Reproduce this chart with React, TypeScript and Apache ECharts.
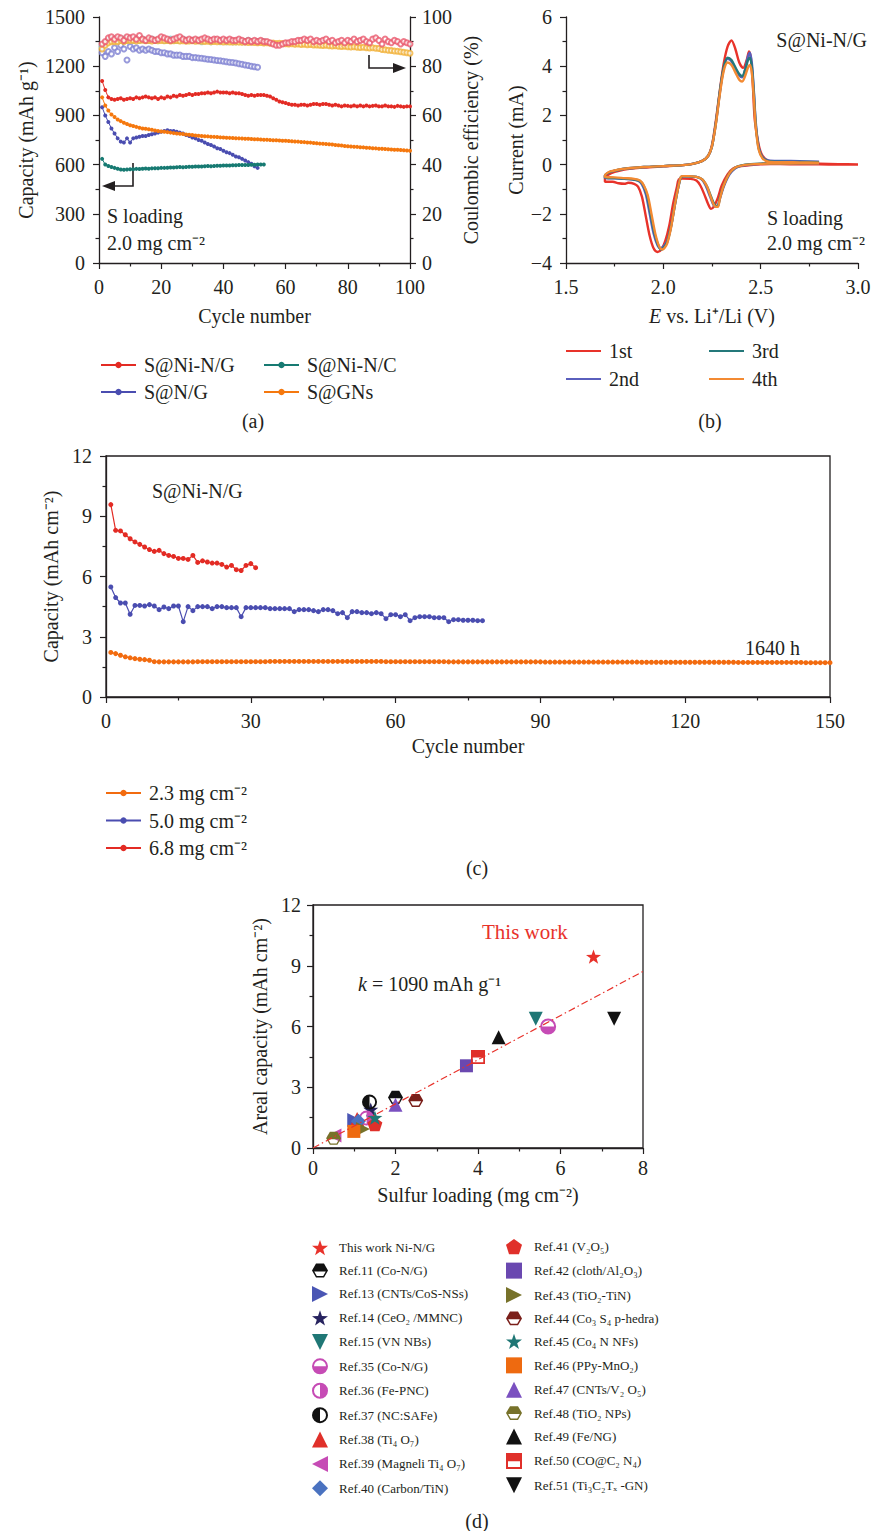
import React, { useEffect, useRef } from "react";
import * as echarts from "echarts";

const FONT = "'Liberation Serif', 'Times New Roman', Times, serif";
const INK = "#231f20";
const FS = 20;

// ---------------- (a) capacity (mAh g-1) per cycle ----------------
const capNiNG = [
  1110, 1055, 1010, 1000, 995, 1000, 1005, 995, 1000, 1005,
  1000, 1010, 1005, 1010, 1015, 1010, 1005, 1010, 1000, 1010,
  1005, 1015, 1010, 1020, 1015, 1025, 1020, 1025, 1030, 1025,
  1030, 1030, 1035, 1035, 1040, 1035, 1040, 1045, 1040, 1040,
  1040, 1035, 1040, 1035, 1035, 1030, 1025, 1020, 1025, 1020,
  1025, 1025, 1025, 1020, 1015, 1005, 995, 985, 980, 975,
  970, 965, 965, 960, 965, 965, 960, 965, 970, 970,
  965, 970, 970, 965, 960, 965, 960, 955, 960, 958,
  955, 960, 955, 960, 955, 960, 955, 958, 960, 955,
  955, 960, 955, 955, 952, 958, 955, 952, 955, 955,
];
const capNG = [
  950, 900, 860, 820, 790, 760, 740, 735, 760, 735,
  760, 765, 770, 775, 775, 780, 785, 790, 795, 800,
  805, 810, 805, 805, 800, 795, 790, 780, 775, 765,
  760, 750, 745, 735, 725, 720, 710, 700, 695, 685,
  675, 670, 660, 650, 645, 635, 625, 615, 605, 590,
  580,
];
const capNiNC = [
  635, 600, 592, 585, 580, 575, 570, 568, 570, 572,
  572, 574, 573, 575, 576, 575, 577, 578, 578, 580,
  580, 581, 582, 582, 584, 585, 584, 586, 587, 587,
  588, 589, 589, 590, 591, 590, 592, 593, 593, 594,
  595, 595, 596, 596, 597, 598, 597, 598, 599, 599,
  600, 600, 600,
];
const capGNs = [
  1010, 960, 930, 905, 890, 875, 865, 855, 848, 840,
  835, 830, 825, 820, 818, 815, 812, 808, 805, 802,
  800, 798, 795, 792, 790, 788, 786, 784, 782, 780,
  778, 776, 775, 773, 772, 770, 769, 768, 766, 765,
  764, 763, 762, 761, 760, 759, 758, 757, 756, 755,
  754, 753, 752, 751, 750, 749, 748, 747, 746, 745,
  744, 742, 741, 740, 738, 737, 735, 734, 732, 730,
  728, 727, 725, 724, 722, 720, 718, 716, 714, 712,
  710, 709, 708, 706, 705, 703, 702, 700, 699, 697,
  696, 695, 694, 692, 691, 690, 689, 688, 686, 685,
];
// (a) coulombic efficiency (%)
const ceNiNG = [
  89, 90, 91.5, 92, 91, 92, 91.5, 90.5, 92, 91.5,
  92, 91, 92.5, 91, 90.5, 91.5, 91, 90.5, 91, 92,
  91.5, 91, 90.5, 91, 91.5, 92, 91, 90.5, 91, 90.5,
  91, 90.5, 91, 91.5, 91, 90.5, 91, 91, 90.5, 91,
  90.5, 91, 90.5, 90.5, 91, 90.5, 90, 90.5, 90, 90.5,
  90, 90.5, 90, 90, 89.5, 89, 88.5, 88.5, 89, 89.5,
  89.5, 90, 90, 90.5, 90.5, 91, 90.5, 91, 90, 90.5,
  90, 90.5, 91, 90, 90.5, 89.5, 90, 90.5, 89.5, 90.5,
  90, 91, 90, 90.5, 91, 90, 89.5, 91, 91.5, 90.5,
  89, 91, 90, 89.5, 90.5, 90, 89, 90, 89.5, 89,
];
const ceNG = [
  85.5, 84, 86, 85, 87.5, 86, 88.5, 87, 82.5, 88,
  87, 87.5, 86.5, 87, 86.5, 87, 86.5, 86, 86, 85.5,
  85.5, 85, 85, 84.5, 84.5, 84.5, 84, 84, 84, 83.5,
  83.5, 83.3, 83.2, 83, 82.8, 82.7, 82.5, 82.3, 82.2, 82,
  81.8, 81.6, 81.5, 81.3, 81, 80.8, 80.5, 80.3, 80, 79.8,
  79.6,
];
const ceNiNC = [
  88, 89.5, 90.5, 91, 91, 90.5, 91, 91, 90.5, 91,
  90.5, 91, 90.5, 91, 90.5, 90.5, 91, 90.5, 90.5, 91,
  90.5, 90.5, 91, 90.5, 90.5, 90.5, 91, 90.5, 90.5, 90.5,
  90.5, 90.5, 90, 90.5, 90.5, 90, 90.5, 90.5, 90, 90.5,
  90, 90.5, 90, 90, 90.5, 90, 90, 90.5, 90, 90,
  90, 90, 90,
];
const ceGNs = [
  87, 88.5, 89.5, 90, 90, 90, 90.5, 90, 90.5, 90.5,
  90.5, 90.3, 90.5, 90.6, 90.4, 90.5, 90.3, 90.5, 90.4, 90.5,
  90.4, 90.5, 90.3, 90.4, 90.5, 90.3, 90.4, 90.2, 90.3, 90.4,
  90.2, 90.3, 90.2, 90.1, 90.2, 90.0, 90.1, 90.0, 90.1, 89.9,
  90.0, 89.9, 89.8, 89.9, 89.8, 89.7, 89.8, 89.6, 89.7, 89.6,
  89.5, 89.6, 89.4, 89.5, 89.3, 89.4, 89.2, 89.3, 89.2, 89.1,
  89.0, 89.1, 88.9, 89.0, 88.8, 88.9, 88.7, 88.8, 88.6, 88.6,
  88.5, 88.4, 88.5, 88.3, 88.2, 88.3, 88.1, 88.0, 88.1, 87.9,
  87.8, 87.9, 87.7, 87.6, 87.7, 87.5, 87.4, 87.5, 87.3, 87.2,
  86.8, 86.7, 86.5, 86.4, 86.2, 86.1, 85.9, 85.7, 85.5, 85.3,
];

// ---------------- (b) CV curves [E (V), I (mA)] ----------------
const cv1st = [
  [3.0, 0.0], [2.9, 0.0], [2.8, 0.01], [2.7, 0.01], [2.6, 0.02], [2.55, 0.02], [2.5, 0.01], [2.45, -0.02],
  [2.4, -0.06], [2.36, -0.15], [2.33, -0.4], [2.3, -0.85], [2.28, -1.35], [2.26, -1.7], [2.245, -1.8],
  [2.23, -1.6], [2.21, -1.2], [2.19, -0.85], [2.17, -0.65], [2.14, -0.58], [2.1, -0.57], [2.08, -0.6],
  [2.07, -0.9], [2.05, -1.6], [2.03, -2.5], [2.01, -3.1], [1.99, -3.45], [1.97, -3.55], [1.95, -3.4],
  [1.93, -2.9], [1.91, -2.1], [1.89, -1.3], [1.87, -0.9], [1.85, -0.78], [1.82, -0.74], [1.8, -0.78],
  [1.77, -0.76], [1.74, -0.7], [1.7, -0.7],
  [1.7, -0.55], [1.72, -0.4], [1.75, -0.3], [1.8, -0.2], [1.9, -0.12], [2.0, -0.07], [2.1, -0.02],
  [2.15, 0.03], [2.2, 0.15], [2.23, 0.35], [2.25, 0.8], [2.27, 1.8], [2.29, 3.0], [2.31, 4.1], [2.33, 4.8],
  [2.35, 5.05], [2.37, 4.7], [2.39, 4.15], [2.41, 3.93], [2.43, 4.3], [2.44, 4.6], [2.45, 4.3], [2.46, 3.2],
  [2.47, 1.8], [2.49, 0.8], [2.51, 0.35], [2.54, 0.15], [2.6, 0.1], [2.7, 0.06], [2.8, 0.04], [2.9, 0.02],
  [3.0, 0.01],
];
const cv2nd = [
  [2.8, 0.06], [2.7, 0.06], [2.6, 0.05], [2.55, 0.05], [2.5, 0.03], [2.45, 0.0], [2.4, -0.05], [2.37, -0.15],
  [2.34, -0.4], [2.31, -0.9], [2.29, -1.4], [2.275, -1.72], [2.26, -1.68], [2.24, -1.3], [2.22, -0.9],
  [2.2, -0.62], [2.17, -0.5], [2.13, -0.48], [2.1, -0.48], [2.09, -0.52], [2.08, -0.8], [2.06, -1.6],
  [2.04, -2.5], [2.02, -3.1], [2.0, -3.33], [1.985, -3.4], [1.97, -3.28], [1.95, -2.8], [1.93, -2.0],
  [1.91, -1.2], [1.89, -0.8], [1.87, -0.65], [1.84, -0.6], [1.8, -0.58], [1.75, -0.56], [1.7, -0.55],
  [1.7, -0.45], [1.72, -0.32], [1.75, -0.25], [1.8, -0.17], [1.9, -0.1], [2.0, -0.06], [2.1, -0.02],
  [2.15, 0.03], [2.2, 0.15], [2.23, 0.35], [2.25, 0.75], [2.27, 1.7], [2.29, 2.9], [2.31, 3.9], [2.33, 4.3],
  [2.35, 4.2], [2.37, 3.9], [2.39, 3.62], [2.405, 3.55], [2.42, 3.85], [2.435, 4.4], [2.445, 4.55],
  [2.455, 4.1], [2.465, 3.0], [2.475, 1.7], [2.49, 0.7], [2.51, 0.3], [2.54, 0.17], [2.6, 0.15], [2.7, 0.14],
  [2.8, 0.12],
];
const cv3rd = [
  [2.8, 0.06], [2.7, 0.06], [2.6, 0.05], [2.55, 0.05], [2.5, 0.04], [2.45, 0.02], [2.4, -0.03], [2.37, -0.12],
  [2.34, -0.35], [2.31, -0.85], [2.29, -1.35], [2.28, -1.68], [2.265, -1.65], [2.245, -1.3], [2.225, -0.9],
  [2.2, -0.6], [2.17, -0.5], [2.13, -0.48], [2.1, -0.48], [2.09, -0.52], [2.08, -0.8], [2.06, -1.6],
  [2.04, -2.5], [2.02, -3.15], [2.0, -3.4], [1.99, -3.45], [1.975, -3.3], [1.955, -2.8], [1.935, -2.0],
  [1.915, -1.2], [1.895, -0.8], [1.875, -0.65], [1.84, -0.6], [1.8, -0.57], [1.75, -0.55], [1.7, -0.52],
  [1.7, -0.45], [1.72, -0.32], [1.75, -0.25], [1.8, -0.17], [1.9, -0.1], [2.0, -0.06], [2.1, -0.02],
  [2.15, 0.03], [2.2, 0.15], [2.23, 0.35], [2.25, 0.75], [2.27, 1.7], [2.29, 2.95], [2.31, 3.95], [2.33, 4.35],
  [2.35, 4.25], [2.37, 3.95], [2.39, 3.68], [2.405, 3.6], [2.42, 3.85], [2.435, 4.25], [2.445, 4.35],
  [2.455, 3.95], [2.465, 2.9], [2.475, 1.6], [2.49, 0.65], [2.51, 0.28], [2.54, 0.14], [2.6, 0.12], [2.7, 0.11],
  [2.8, 0.1],
];
const cv4th = [
  [2.8, 0.05], [2.7, 0.05], [2.6, 0.04], [2.55, 0.04], [2.5, 0.03], [2.45, 0.01], [2.4, -0.04], [2.37, -0.12],
  [2.34, -0.35], [2.31, -0.85], [2.29, -1.4], [2.28, -1.72], [2.265, -1.7], [2.245, -1.35], [2.225, -0.9],
  [2.2, -0.6], [2.17, -0.5], [2.13, -0.47], [2.1, -0.47], [2.09, -0.5], [2.08, -0.8], [2.06, -1.6],
  [2.04, -2.55], [2.02, -3.2], [2.005, -3.4], [1.995, -3.45], [1.98, -3.35], [1.96, -2.85], [1.94, -2.05],
  [1.92, -1.25], [1.9, -0.85], [1.88, -0.65], [1.85, -0.58], [1.8, -0.55], [1.75, -0.52], [1.7, -0.5],
  [1.7, -0.45], [1.72, -0.3], [1.75, -0.24], [1.8, -0.17], [1.9, -0.1], [2.0, -0.06], [2.1, -0.02],
  [2.15, 0.03], [2.2, 0.15], [2.23, 0.35], [2.25, 0.75], [2.27, 1.65], [2.29, 2.85], [2.31, 3.8], [2.33, 4.15],
  [2.35, 4.05], [2.37, 3.75], [2.39, 3.45], [2.405, 3.38], [2.42, 3.6], [2.435, 3.95], [2.445, 4.05],
  [2.455, 3.7], [2.465, 2.7], [2.475, 1.5], [2.49, 0.6], [2.51, 0.25], [2.54, 0.12], [2.6, 0.1], [2.7, 0.09],
  [2.8, 0.08],
];

// ---------------- (c) areal capacity (mAh cm-2) per cycle ----------------
const areal23 = [
  2.22, 2.16, 2.08, 2.0, 1.95, 1.91, 1.88, 1.86, 1.83, 1.76,
  1.75, 1.75, 1.75, 1.75, 1.75, 1.75, 1.75, 1.75, 1.76, 1.76,
  1.76, 1.76, 1.76, 1.76, 1.76, 1.76, 1.76, 1.76, 1.76, 1.76,
  1.76, 1.76, 1.76, 1.77, 1.77, 1.77, 1.77, 1.77, 1.77, 1.77,
  1.77, 1.77, 1.77, 1.77, 1.77, 1.77, 1.77, 1.77, 1.77, 1.77,
  1.77, 1.77, 1.77, 1.77, 1.77, 1.77, 1.77, 1.76, 1.76, 1.76,
  1.76, 1.76, 1.76, 1.76, 1.76, 1.76, 1.76, 1.76, 1.76, 1.76,
  1.75, 1.75, 1.75, 1.75, 1.75, 1.75, 1.75, 1.75, 1.75, 1.75,
  1.75, 1.75, 1.75, 1.75, 1.75, 1.75, 1.75, 1.75, 1.75, 1.75,
  1.74, 1.74, 1.74, 1.74, 1.74, 1.74, 1.74, 1.74, 1.74, 1.74,
  1.74, 1.74, 1.74, 1.74, 1.74, 1.74, 1.74, 1.74, 1.74, 1.74,
  1.73, 1.73, 1.73, 1.73, 1.73, 1.73, 1.73, 1.73, 1.73, 1.73,
  1.73, 1.73, 1.73, 1.73, 1.73, 1.73, 1.73, 1.73, 1.73, 1.73,
  1.72, 1.72, 1.72, 1.72, 1.72, 1.72, 1.72, 1.72, 1.72, 1.72,
  1.72, 1.72, 1.72, 1.72, 1.71, 1.71, 1.71, 1.71, 1.71, 1.71,
];
const areal50 = [
  5.48, 4.95, 4.68, 4.68, 4.12, 4.56, 4.56, 4.53, 4.6, 4.53,
  4.35, 4.48, 4.4, 4.53, 4.53, 3.75, 4.5, 4.3, 4.5, 4.5,
  4.5, 4.4, 4.5, 4.5, 4.45, 4.45, 4.45, 4.0, 4.45, 4.45,
  4.45, 4.45, 4.45, 4.4, 4.4, 4.4, 4.4, 4.4, 4.25, 4.35,
  4.35, 4.35, 4.3, 4.25, 4.35, 4.35, 4.3, 4.15, 4.2, 3.95,
  4.25, 4.25, 4.2, 4.2, 4.15, 4.2, 4.15, 3.9, 4.1, 4.1,
  4.0, 4.1, 3.8, 3.95, 4.0, 4.0, 4.0, 3.95, 3.95, 3.95,
  3.75, 3.85, 3.85, 3.82, 3.82, 3.82, 3.8, 3.8,
];
const areal68 = [
  9.58, 8.3, 8.27, 8.08, 7.88, 7.72, 7.6, 7.47, 7.34, 7.25,
  7.3, 7.14, 7.05, 7.0, 6.9, 6.9, 6.85, 7.05, 6.7, 6.78,
  6.72, 6.67, 6.67, 6.6, 6.47, 6.55, 6.34, 6.3, 6.55, 6.64,
  6.44,
];

// ---------------- (d) literature comparison ----------------
const refNames = [
  "This work Ni-N/G", "Ref.11 (Co-N/G)", "Ref.13 (CNTs/CoS-NSs)", "Ref.14 (CeO₂ /MMNC)",
  "Ref.15 (VN NBs)", "Ref.35 (Co-N/G)", "Ref.36 (Fe-PNC)", "Ref.37 (NC:SAFe)",
  "Ref.38 (Ti₄ O₇)", "Ref.39 (Magneli Ti₄ O₇)", "Ref.40 (Carbon/TiN)",
  "Ref.41 (V₂O₅)", "Ref.42 (cloth/Al₂O₃)", "Ref.43 (TiO₂-TiN)", "Ref.44 (Co₃ S₄ p-hedra)",
  "Ref.45 (Co₄ N NFs)", "Ref.46 (PPy-MnO₂)", "Ref.47 (CNTs/V₂ O₅)", "Ref.48 (TiO₂ NPs)",
  "Ref.49 (Fe/NG)", "Ref.50 (CO@C₂ N₄)", "Ref.51 (Ti₃C₂Tₓ -GN)",
];
const refLoading = [6.8, 2.0, 1.0, 1.4, 5.4, 5.7, 1.3, 1.37, 1.07, 0.52, 1.1, 1.5, 3.72, 1.21, 2.49, 1.5, 0.99, 2.0, 0.5, 4.5, 4.0, 7.3];
const refCapacity = [9.45, 2.5, 1.38, 1.9, 6.38, 6.0, 1.48, 2.27, 1.43, 0.62, 1.32, 1.18, 4.06, 0.94, 2.35, 1.5, 0.82, 2.14, 0.48, 5.47, 4.49, 6.38];
const fitLoading = [0, 8];
const fitCapacity = [0, 8.72];

// ---------------- marker shapes (style) ----------------
const P_STAR = "path://M0 -1 L0.235 -0.324 L0.951 -0.309 L0.38 0.124 L0.588 0.809 L0 0.4 L-0.588 0.809 L-0.38 0.124 L-0.951 -0.309 L-0.235 -0.324 Z";
const P_PENT = "path://M0 -1 L0.951 -0.309 L0.588 0.809 L-0.588 0.809 L-0.951 -0.309 Z";
const P_UP = "path://M0 -1 L1 1 L-1 1 Z";
const P_DOWN = "path://M-1 -1 L1 -1 L0 1 Z";
const P_RIGHT = "path://M-1 -1 L1 0 L-1 1 Z";
const P_LEFT = "path://M1 -1 L-1 0 L1 1 Z";
const CIRC = "M-1 0 A1 1 0 1 1 1 0 A1 1 0 1 1 -1 0 Z ";
const P_HALF_BOTTOM = "path://" + CIRC + "M-0.75 0 L0.75 0 A0.75 0.75 0 0 0 -0.75 0 Z";
const P_HALF_RIGHT = "path://" + CIRC + "M0 -0.75 A0.75 0.75 0 0 0 0 0.75 L0 -0.75 Z";
const P_HALF_LEFT = "path://" + CIRC + "M0 0.75 A0.75 0.75 0 0 0 0 -0.75 L0 0.75 Z";
const P_HEX_HALF = "path://M-1 0 L-0.5 -0.87 L0.5 -0.87 L1 0 L0.5 0.87 L-0.5 0.87 Z M-0.72 0.12 L-0.4 0.68 L0.4 0.68 L0.72 0.12 Z";
const P_SQ_HALF = "path://M-1 -1 L1 -1 L1 1 L-1 1 Z M-0.75 0.05 L-0.75 0.75 L0.75 0.75 L0.75 0.05 Z";

const refStyle: { symbol: string; color: string; size: number }[] = [
  { symbol: P_STAR, color: "#e8322b", size: 15 },
  { symbol: P_HEX_HALF, color: "#111111", size: 15 },
  { symbol: P_RIGHT, color: "#4a56b4", size: 14 },
  { symbol: P_STAR, color: "#27235f", size: 15 },
  { symbol: P_DOWN, color: "#1f7775", size: 14 },
  { symbol: P_HALF_BOTTOM, color: "#c64bb5", size: 16 },
  { symbol: P_HALF_RIGHT, color: "#c64bb5", size: 15 },
  { symbol: P_HALF_LEFT, color: "#111111", size: 15 },
  { symbol: P_UP, color: "#e0302a", size: 14 },
  { symbol: P_LEFT, color: "#c64bb5", size: 14 },
  { symbol: "diamond", color: "#4a72c0", size: 15 },
  { symbol: P_PENT, color: "#e0302a", size: 15 },
  { symbol: "rect", color: "#6a48b0", size: 13 },
  { symbol: P_RIGHT, color: "#77722a", size: 14 },
  { symbol: P_HEX_HALF, color: "#7a1f1a", size: 15 },
  { symbol: P_STAR, color: "#1f7775", size: 15 },
  { symbol: "rect", color: "#ee6a10", size: 13 },
  { symbol: P_UP, color: "#7a50c0", size: 14 },
  { symbol: P_HEX_HALF, color: "#77722a", size: 15 },
  { symbol: P_UP, color: "#111111", size: 14 },
  { symbol: P_SQ_HALF, color: "#e0302a", size: 14 },
  { symbol: P_DOWN, color: "#111111", size: 14 },
];

const RED = "#e32b24";
const BLUE = "#4a4db0";
const TEAL = "#177a72";
const ORANGE = "#f5780e";

const byCycle = (arr: number[]) => arr.map((v, i) => [i + 1, v]);
const plain = (v: number) => (v < 0 ? "\u2212" + Math.abs(v) : String(v));

function axis(extra: any, labelExtra: any = {}) {
  return {
    type: "value",
    nameLocation: "middle",
    nameTextStyle: { fontFamily: FONT, fontSize: FS, color: INK },
    axisLine: { show: true, onZero: false, lineStyle: { color: INK, width: 1.3 } },
    axisTick: { show: true, length: 6, lineStyle: { color: INK, width: 1.2 } },
    minorTick: { show: true, splitNumber: 2, length: 3.5, lineStyle: { color: INK, width: 1.2 } },
    splitLine: { show: false },
    axisLabel: { fontFamily: FONT, fontSize: FS, color: INK, margin: 14, formatter: plain, ...labelExtra },
    ...extra,
  };
}

const txt = (text: string, x: number, y: number, extra: any = {}) => ({
  type: "text",
  x,
  y,
  style: { text, fontFamily: FONT, fontSize: FS, fill: INK, align: "left", verticalAlign: "middle", ...extra },
});

function buildOption() {
  const series: any[] = [];
  // (a)
  const capA = [
    ["S@Ni-N/G", capNiNG, RED],
    ["S@N/G", capNG, BLUE],
    ["S@Ni-N/C", capNiNC, TEAL],
    ["S@GNs", capGNs, ORANGE],
  ] as const;
  const ceA = [
    ["CE S@N/G", ceNG, "#7f82d2"],
    ["CE S@Ni-N/C", ceNiNC, "#7fd3d3"],
    ["CE S@GNs", ceGNs, "#f1b23a"],
    ["CE S@Ni-N/G", ceNiNG, "#ea5a6e"],
  ] as const;
  ceA.forEach(([name, d, c]) =>
    series.push({
      type: "scatter", name, xAxisIndex: 0, yAxisIndex: 1, data: byCycle(d as any),
      symbol: "emptyCircle", symbolSize: 5, itemStyle: { color: c, borderColor: c, borderWidth: 1 },
    })
  );
  capA.forEach(([name, d, c]) =>
    series.push({
      type: "line", name, xAxisIndex: 0, yAxisIndex: 0, data: byCycle(d as any),
      symbol: "circle", symbolSize: 4, color: c, itemStyle: { color: c }, lineStyle: { color: c, width: 1 },
    })
  );
  // (b)
  const cvs = [
    ["1st", cv1st, "#e8332a"],
    ["2nd", cv2nd, "#5a5fbd"],
    ["3rd", cv3rd, "#24787a"],
    ["4th", cv4th, "#f38a32"],
  ] as const;
  cvs.forEach(([name, d, c]) =>
    series.push({
      type: "line", name, xAxisIndex: 1, yAxisIndex: 2, data: d as any, symbol: "none",
      smooth: 0.3, color: c, lineStyle: { color: c, width: 2.4 },
    })
  );
  // (c)
  const cc = [
    ["2.3 mg cm⁻²", areal23, "#f26b0f"],
    ["5.0 mg cm⁻²", areal50, BLUE],
    ["6.8 mg cm⁻²", areal68, RED],
  ] as const;
  cc.forEach(([name, d, c]) =>
    series.push({
      type: "line", name, xAxisIndex: 2, yAxisIndex: 3, data: byCycle(d as any),
      symbol: "circle", symbolSize: 5, color: c, itemStyle: { color: c }, lineStyle: { color: c, width: 1.2 },
    })
  );
  // (d)
  series.push({
    type: "line", name: "fit", xAxisIndex: 3, yAxisIndex: 4, symbol: "none",
    data: fitLoading.map((x, i) => [x, fitCapacity[i]]),
    lineStyle: { color: "#e8322b", width: 1.2, type: [7, 3, 1.5, 3] },
  });
  refNames.forEach((name, i) => {
    const s = refStyle[i];
    series.push({
      type: "scatter", name, xAxisIndex: 3, yAxisIndex: 4,
      data: [[refLoading[i], refCapacity[i]]],
      symbol: s.symbol, symbolSize: s.size, symbolKeepAspect: true,
      itemStyle: { color: s.color, opacity: 1 },
    });
  });

  const legendText = (size: number, pad: number) => ({
    fontFamily: FONT, fontSize: size, color: INK, padding: [0, 0, 0, pad],
  });
  const lineLegend = (left: number, top: number, data: string[], gap: number) => ({
    left, top, padding: 0, orient: "vertical", itemWidth: 35, itemHeight: 8, itemGap: gap,
    selectedMode: false, data, textStyle: legendText(FS, 3),
  });
  const plainLineLegend = (left: number, top: number, data: string[]) => ({
    left, top, padding: 0, orient: "vertical", itemWidth: 35, itemHeight: 2, itemGap: 8,
    selectedMode: false, icon: "rect", data, textStyle: legendText(FS, 3),
  });

  return {
    animation: false,
    backgroundColor: "#ffffff",
    grid: [
      { left: 99, top: 17, width: 311, height: 246 },
      { left: 566, top: 17, width: 292, height: 246 },
      { left: 106, top: 456, width: 724, height: 241, show: true, borderColor: INK, borderWidth: 1.3 },
      { left: 313, top: 905, width: 330, height: 243, show: true, borderColor: INK, borderWidth: 1.3 },
    ],
    xAxis: [
      axis({ gridIndex: 0, min: 0, max: 100, interval: 20, name: "Cycle number", nameGap: 43 }),
      axis(
        {
          gridIndex: 1, min: 1.5, max: 3.0, interval: 0.5, name: "{i|E} vs. Li⁺/Li (V)", nameGap: 43,
          nameTextStyle: { fontFamily: FONT, fontSize: FS, color: INK, rich: { i: { fontFamily: FONT, fontSize: FS, fontStyle: "italic", color: INK } } },
        },
        { formatter: (v: number) => v.toFixed(1) }
      ),
      axis({ gridIndex: 2, min: 0, max: 150, interval: 30, name: "Cycle number", nameGap: 39 }),
      axis({ gridIndex: 3, min: 0, max: 8, interval: 2, name: "Sulfur loading (mg cm⁻²)", nameGap: 37 }, { margin: 10 }),
    ],
    yAxis: [
      axis({ gridIndex: 0, min: 0, max: 1500, interval: 300, name: "Capacity (mAh g⁻¹)", nameGap: 63 }),
      axis({ gridIndex: 0, position: "right", min: 0, max: 100, interval: 20, name: "Coulombic efficiency (%)", nameGap: 51 }, { margin: 12 }),
      axis({ gridIndex: 1, min: -4, max: 6, interval: 2, name: "Current (mA)", nameGap: 40 }),
      axis({ gridIndex: 2, min: 0, max: 12, interval: 3, name: "Capacity (mAh cm⁻²)", nameGap: 42 }),
      axis({ gridIndex: 3, min: 0, max: 12, interval: 3, name: "Areal capacity (mAh cm⁻²)", nameGap: 43 }, { margin: 12 }),
    ],
    legend: [
      lineLegend(100, 355, ["S@Ni-N/G", "S@N/G"], 7),
      lineLegend(263, 355, ["S@Ni-N/C", "S@GNs"], 7),
      plainLineLegend(566, 341, ["1st", "2nd"]),
      plainLineLegend(709, 341, ["3rd", "4th"]),
      lineLegend(105, 783, ["2.3 mg cm⁻²", "5.0 mg cm⁻²", "6.8 mg cm⁻²"], 7.5),
      {
        left: 312, top: 1240, padding: 0, orient: "vertical", itemWidth: 16, itemHeight: 16, itemGap: 8.4, selectedMode: false,
        data: refNames.slice(0, 11), textStyle: legendText(13, 6),
      },
      {
        left: 506, top: 1239, padding: 0, orient: "vertical", itemWidth: 16, itemHeight: 16, itemGap: 8.4, selectedMode: false,
        data: refNames.slice(11), textStyle: legendText(13, 7),
      },
    ],
    graphic: [
      txt("S loading", 107, 216),
      txt("2.0 mg cm⁻²", 107, 243),
      // arrows in (a)
      { type: "polyline", shape: { points: [[133, 163], [133, 186], [112, 186]] }, style: { stroke: INK, lineWidth: 1.6, fill: null } },
      { type: "polygon", shape: { points: [[102, 186], [115, 181], [115, 191]] }, style: { fill: INK } },
      { type: "polyline", shape: { points: [[369, 55], [369, 68], [394, 68]] }, style: { stroke: INK, lineWidth: 1.6, fill: null } },
      { type: "polygon", shape: { points: [[406, 68], [393, 63], [393, 73]] }, style: { fill: INK } },
      txt("S@Ni-N/G", 867, 40, { align: "right" }),
      txt("S loading", 767, 218),
      txt("2.0 mg cm⁻²", 767, 243),
      txt("S@Ni-N/G", 152, 491),
      txt("1640 h", 745, 648),
      txt("This work", 482, 932, { fill: "#e8322b", fontSize: 21 }),
      txt("{i|k} = 1090 mAh g⁻¹", 358, 984, { rich: { i: { fontFamily: FONT, fontSize: FS, fontStyle: "italic", fill: INK } } }),
      txt("(a)", 253, 421, { align: "center" }),
      txt("(b)", 710, 421, { align: "center" }),
      txt("(c)", 477, 868, { align: "center" }),
      txt("(d)", 477, 1521, { align: "center" }),
    ],
    series,
  };
}

export default function App() {
  const ref = useRef<HTMLDivElement>(null);
  useEffect(() => {
    const chart = echarts.init(ref.current!, null, { renderer: "svg" });
    chart.setOption(buildOption() as any);
    return () => chart.dispose();
  }, []);
  return (
    <div
      ref={ref}
      style={{ position: "absolute", left: 0, top: 0, width: 877, height: 1531, background: "#fff" }}
    />
  );
}
